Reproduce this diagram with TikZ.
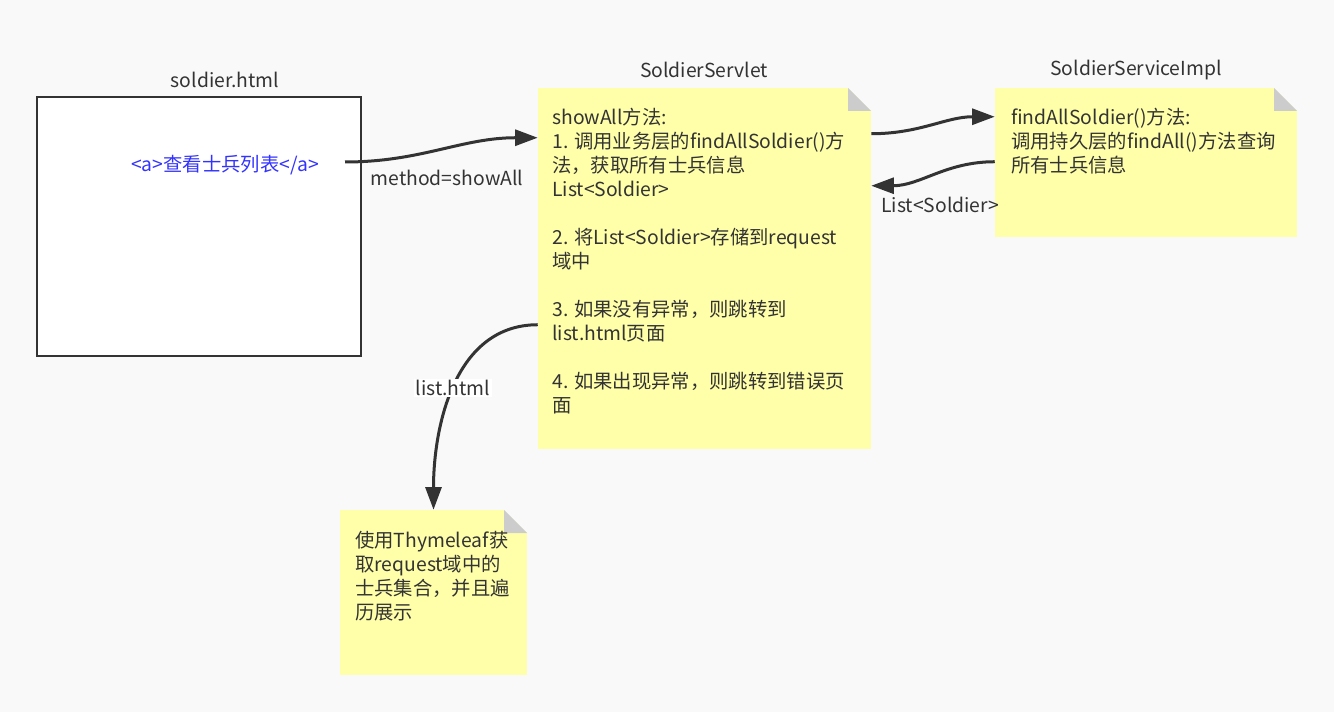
\documentclass[tikz,border=0pt]{standalone}
\usepackage{fontspec}
\setmainfont{Noto Sans CJK SC}
\usetikzlibrary{arrows.meta,positioning,fit,calc}
\definecolor{bgcol}{RGB}{249,249,249}
\definecolor{notecol}{RGB}{255,255,170}
\definecolor{foldcol}{RGB}{204,204,204}
\definecolor{inkcol}{RGB}{51,51,51}
\definecolor{linkcol}{RGB}{51,51,255}
\tikzset{
  ttl/.style={font=\fontsize{14.5}{17}\selectfont,text=inkcol,inner sep=0pt},
  pagebox/.style={draw=inkcol,fill=white,line width=2pt,inner sep=0pt},
  notebox/.style={fill=notecol,inner sep=0pt,path picture={
    \fill[bgcol] (path picture bounding box.north east) -- ++(-17.25pt,0pt) -- ++(17.25pt,-17.25pt) -- cycle;
    \fill[foldcol] ([xshift=-17.25pt]path picture bounding box.north east) -- ++(0pt,-17.25pt) -- ++(17.25pt,0pt) -- cycle;}},
  txt/.style={font=\fontsize{14.5}{18}\selectfont,text=inkcol,align=left,anchor=north west,inner sep=0pt},
  lbl/.style={font=\fontsize{14.5}{17}\selectfont,text=inkcol,inner sep=1pt},
  conn/.style={-{Triangle[length=17pt,width=12pt]},draw=inkcol,line width=2.25pt}
}
\begin{document}
\begin{tikzpicture}[x=0.75pt,y=-0.75pt]
\fill[bgcol] (0,0) rectangle (1334,712);
\useasboundingbox (0,0) rectangle (1334,712);
% page
\node[ttl] (pagettl) at (225,80) {soldier.html};
\node[pagebox,fit={(37,97) (361,356)}] (page) {};
\node[lbl,text=linkcol] (link) at (225,165) {<a>查看士兵列表</a>};
\coordinate (linkout) at (345,162);
% servlet
\node[ttl] (servletttl) at (704,70) {SoldierServlet};
\node[notebox,fit={(538,88) (871,449)}] (servlet) {};
\node[txt] (servlettxt) at (552,108) {showAll方法:\\1. 调用业务层的findAllSoldier()方\\法，获取所有士兵信息\\List<Soldier>\\[18pt]2. 将List<Soldier>存储到request\\域中\\[18pt]3. 如果没有异常，则跳转到\\list.html页面\\[18pt]4. 如果出现异常，则跳转到错误页\\面};
% service
\node[ttl] (implttl) at (1136,70) {SoldierServiceImpl};
\node[notebox,fit={(995,88) (1297,237)}] (impl) {};
\node[txt] (impltxt) at (1011,108) {findAllSoldier()方法:\\调用持久层的findAll()方法查询\\所有士兵信息};
% view
\node[notebox,fit={(340,510) (527,675)}] (view) {};
\node[txt] (viewtxt) at (355,531) {使用Thymeleaf获\\取request域中的\\士兵集合，并且遍\\历展示};
% connectors
\draw[conn] (linkout) to[out=0,in=180] ($(servlet.north west)+(0,50)$);
\node[lbl] (methodlbl) at (447,178) {method=showAll};
\draw[conn] ($(servlet.north east)+(0,46)$) to[out=0,in=180] ($(impl.north west)+(0,29)$);
\draw[conn] ($(impl.north west)+(0,74)$) to[out=180,in=0] ($(servlet.north east)+(0,98)$);
\node[lbl] (listlbl) at (940,205) {List<Soldier>};
\draw[conn] ($(servlet.north west)+(0,237)$) to[out=180,in=90] (view.north);
\node[lbl,fill=white] (viewlbl) at (453,388) {list.html};
\end{tikzpicture}
\end{document}
